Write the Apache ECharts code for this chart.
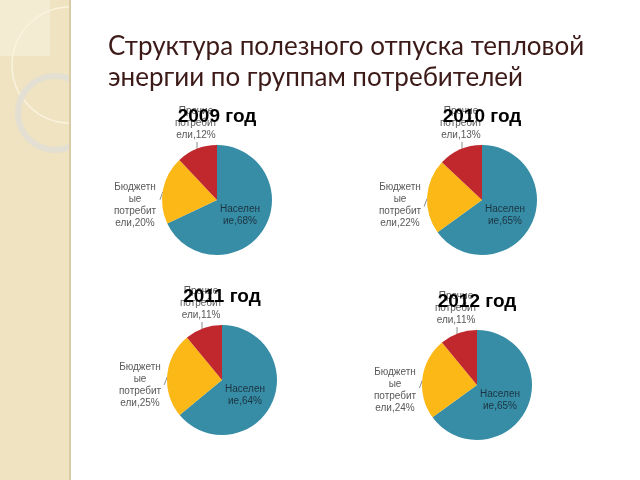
<!DOCTYPE html>
<html>
<head>
<meta charset="utf-8">
<script src="https://cdn.jsdelivr.net/npm/echarts@6/dist/echarts.min.js"></script>
<style>html,body{margin:0;padding:0;background:#fff}#c{width:640px;height:480px}</style>
</head>
<body>
<div id="c"></div>
<script>
const mainTitle = 'Структура полезного отпуска тепловой\nэнергии по группам потребителей';
const categories = ['Население', 'Бюджетные потребители', 'Прочие потребители'];
const labelNames = ['Населен\nие', 'Бюджетн\nые\nпотребит\nели', 'Прочие\nпотребит\nели'];
const years = ['2009 год', '2010 год', '2011 год', '2012 год'];
const values2009 = [68, 20, 12];
const values2010 = [65, 22, 13];
const values2011 = [64, 25, 11];
const values2012 = [65, 24, 11];
const allValues = [values2009, values2010, values2011, values2012];
const colors = ['#378ca6', '#fbb817', '#c0282d'];

const pieGeom = [
  {cx: 217, cy: 200, r: 55},
  {cx: 482, cy: 200, r: 55},
  {cx: 222, cy: 380, r: 55},
  {cx: 477, cy: 385, r: 55}
];

function makeLayout(g, vals) {
  const total = vals.reduce((a, b) => a + b, 0);
  return function (p) {
    const i = p.dataIndex;
    if (i === 0) {
      return {x: g.cx + 23, y: g.cy + 15, align: 'center', verticalAlign: 'middle'};
    }
    if (i === 1) {
      let before = 0;
      for (let k = 0; k < i; k++) before += vals[k];
      const th = (before + vals[i] / 2) / total * 2 * Math.PI;
      const ex = g.cx + g.r * Math.sin(th), ey = g.cy - g.r * Math.cos(th);
      return {
        x: g.cx - 82, y: g.cy + 5, align: 'center', verticalAlign: 'middle',
        labelLinePoints: [[ex, ey + 2], [ex - 3, ey + 10], [ex - 3, ey + 10]]
      };
    }
    const lx = g.cx - 20;
    const ey = g.cy - Math.sqrt(g.r * g.r - 20 * 20);
    return {
      x: g.cx - 21, y: g.cy - g.r - 4, align: 'center', verticalAlign: 'bottom',
      labelLinePoints: [[lx, ey + 2], [lx, g.cy - g.r - 3], [lx, g.cy - g.r - 3]]
    };
  };
}

const series = allValues.map((vals, s) => {
  const g = pieGeom[s];
  return {
    type: 'pie',
    center: [g.cx, g.cy],
    radius: g.r,
    startAngle: 90,
    clockwise: true,
    silent: true,
    animation: false,
    label: {
      show: true,
      position: 'outside',
      fontFamily: 'Liberation Sans, Arial, sans-serif',
      fontSize: 10,
      lineHeight: 12,
      color: '#595959',
      formatter: p => labelNames[p.dataIndex] + ',' + p.value + '%'
    },
    labelLine: {show: true, length: 4, length2: 2, lineStyle: {color: '#8c8c8c', width: 1}},
    labelLayout: makeLayout(g, vals),
    data: vals.map((v, i) => ({
      name: categories[i],
      value: v,
      itemStyle: {color: colors[i]},
      label: i === 0 ? {position: 'inside', color: '#1c3440'} : {},
      labelLine: i === 0 ? {show: false} : {}
    }))
  };
});

const titles = [{
  text: mainTitle,
  left: 108,
  top: 31,
  padding: 0,
  textStyle: {fontFamily: 'Lato, "Open Sans", sans-serif', fontSize: 26, lineHeight: 31, fontWeight: 'normal', color: '#3c1a18'}
}].concat(years.map((y, s) => ({
  text: y,
  left: pieGeom[s].cx,
  top: pieGeom[s].cy - 93,
  textAlign: 'center',
  padding: 0,
  textStyle: {fontFamily: 'Liberation Sans, Arial, sans-serif', fontSize: 19, fontWeight: 'bold', color: '#000'}
})));

const chart = echarts.init(document.getElementById('c'), null, {renderer: 'canvas'});
chart.setOption({
  backgroundColor: '#ffffff',
  animation: false,
  title: titles,
  graphic: [
    {type: 'rect', z: 0, z2: 0, silent: true, shape: {x: 0, y: 0, width: 70, height: 480}, style: {fill: '#efe3c1'}},
    {type: 'rect', z: 0, z2: 1, silent: true, shape: {x: 0, y: 0, width: 50, height: 56}, style: {fill: '#f4ebd3'}},
    {type: 'circle', z: 0, z2: 2, silent: true, shape: {cx: 70, cy: 65, r: 58}, style: {fill: 'none', stroke: '#faf3de', lineWidth: 1.5}},
    {type: 'circle', z: 0, z2: 3, silent: true, shape: {cx: 55, cy: 113, r: 37}, style: {fill: 'none', stroke: 'rgba(225,222,212,0.9)', lineWidth: 6}},
    {type: 'rect', z: 0, z2: 4, silent: true, shape: {x: 70, y: 0, width: 570, height: 480}, style: {fill: '#ffffff'}},
    {type: 'rect', z: 0, z2: 5, silent: true, shape: {x: 69, y: 0, width: 2, height: 480}, style: {fill: '#d8cba6'}}
  ],
  series: series
});
</script>
</body>
</html>
